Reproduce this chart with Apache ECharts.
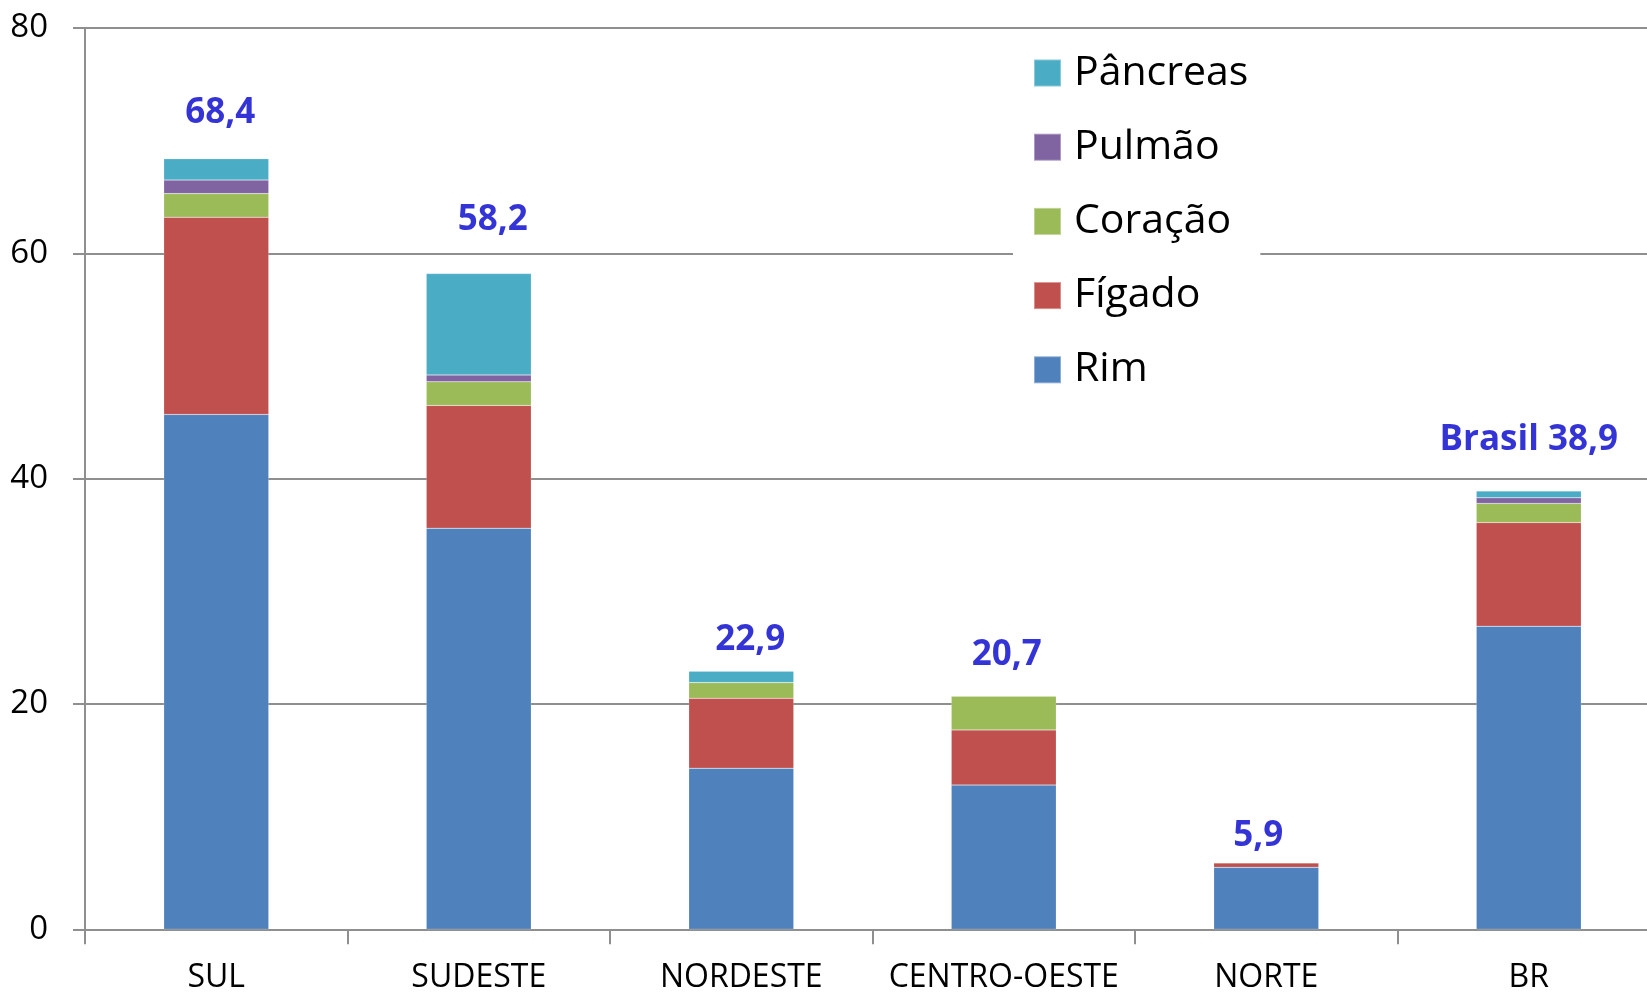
<!DOCTYPE html>
<html>
<head>
<meta charset="utf-8">
<script src="https://cdn.jsdelivr.net/npm/echarts@6/dist/echarts.min.js"></script>
<style>
html,body{margin:0;padding:0;background:#fff;}
#chart{width:1647px;height:994px;}
</style>
</head>
<body>
<div id="chart"></div>
<script>
const categories = ['SUL', 'SUDESTE', 'NORDESTE', 'CENTRO-OESTE', 'NORTE', 'BR'];
const rim      = [45.7, 35.6, 14.3, 12.8, 5.5, 26.9];
const figado   = [17.5, 10.9, 6.2, 4.9, 0.4, 9.2];
const coracao  = [2.1, 2.1, 1.4, 3.0, 0, 1.7];
const pulmao   = [1.2, 0.6, 0, 0, 0, 0.5];
const pancreas = [1.9, 9.0, 1.0, 0, 0, 0.6];
const totals   = [68.4, 58.2, 22.9, 20.7, 5.9, 38.9];
const totalPrefixes = ['', '', '', '', '', 'Brasil '];
const seriesNames = ['Rim', 'Fígado', 'Coração', 'Pulmão', 'Pâncreas'];
const seriesColors = ['#4F81BD', '#C0504D', '#9BBB59', '#8064A2', '#4BACC6'];
// label placement (style, not data)
const labelOffsets = [[4, -46], [14, -54], [9, -31], [3, -41], [-8, -27], [0, -51]];

const FONT = '"Open Sans", "DejaVu Sans", sans-serif';
const GRAY = '#8f8f8f';
const stackData = [rim, figado, coracao, pulmao, pancreas];

const barSeries = seriesNames.map((name, i) => ({
  name: name,
  type: 'bar',
  stack: 'total',
  barWidth: '40%',
  data: stackData[i],
  itemStyle: { color: seriesColors[i], borderColor: 'rgba(255,255,255,0.35)', borderWidth: 0.5 },
  emphasis: { disabled: true }
}));

const totalSeries = {
  name: 'Total',
  type: 'scatter',
  symbolSize: 1,
  itemStyle: { color: 'rgba(0,0,0,0)' },
  silent: true,
  z: 10,
  data: totals.map((v, i) => ({
    value: v,
    label: {
      show: true,
      position: 'inside',
      offset: labelOffsets[i],
      formatter: () => totalPrefixes[i] + v.toFixed(1).replace('.', ','),
      color: '#0000CC',
      fontWeight: 'bold',
      fontSize: 35,
      fontFamily: FONT
    }
  }))
};

const chart = echarts.init(document.getElementById('chart'), null, { renderer: 'canvas' });
chart.setOption({
  animation: false,
  backgroundColor: '#fff',
  grid: { left: 85, top: 28, width: 1575, height: 901.3, containLabel: false, outerBoundsMode: 'none' },
  legend: {
    data: seriesNames.slice().reverse(),
    orient: 'vertical',
    left: 1013,
    top: 42,
    padding: [10, 12, 10, 20],
    backgroundColor: '#fff',
    itemWidth: 27,
    itemHeight: 27,
    itemGap: 32.2,
    icon: 'rect',
    selectedMode: false,
    textStyle: { fontSize: 41, lineHeight: 42, color: '#000', fontFamily: FONT, padding: [0, 0, 0, 8] }
  },
  xAxis: {
    type: 'category',
    data: categories,
    axisLine: { lineStyle: { color: GRAY, width: 2 } },
    axisTick: { show: true, length: 15, lineStyle: { color: GRAY, width: 2 } },
    axisLabel: { color: '#000', fontSize: 32, fontFamily: FONT, margin: 33, interval: 0 },
    splitLine: { show: false }
  },
  yAxis: {
    type: 'value',
    min: 0,
    max: 80,
    interval: 20,
    axisLine: { show: true, lineStyle: { color: GRAY, width: 2 } },
    axisTick: { show: true, length: 12, lineStyle: { color: GRAY, width: 2 } },
    axisLabel: { color: '#000', fontSize: 33, fontFamily: FONT, margin: 37 },
    splitLine: { show: true, lineStyle: { color: GRAY, width: 2 } }
  },
  series: barSeries.concat([totalSeries])
});
</script>
</body>
</html>
